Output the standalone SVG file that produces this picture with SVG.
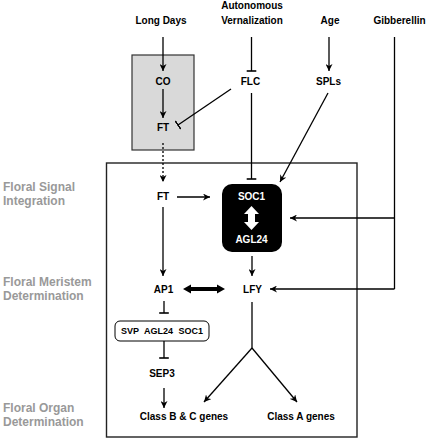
<svg xmlns="http://www.w3.org/2000/svg" width="427" height="440" viewBox="0 0 427 440">
<style>
text{font-family:"Liberation Sans",Arial,sans-serif;font-weight:bold;}
.n{font-size:10px;fill:#000;text-anchor:middle;}
.w{font-size:10px;fill:#fff;text-anchor:middle;}
.s{font-size:9px;fill:#000;text-anchor:middle;}
.lab{font-size:12px;fill:#999;}
.c{stroke:#000;stroke-width:1.3;fill:none;}
.a{marker-end:url(#arr);}
.b{marker-end:url(#bar);}
</style>
<defs>
<marker id="arr" viewBox="0 0 10 10" refX="10" refY="5" markerWidth="7" markerHeight="7" markerUnits="userSpaceOnUse" orient="auto"><path d="M0,0 L10,5 L0,10 L3,5 z" fill="#000"/></marker>
<marker id="bar" viewBox="0 0 2 12" refX="1" refY="6" markerWidth="1.6" markerHeight="12" markerUnits="userSpaceOnUse" orient="auto"><rect width="2" height="12" fill="#000"/></marker>
</defs>
<rect width="427" height="440" fill="#fff"/>
<g id="stage-labels">
<text class="lab" x="3" y="191">Floral Signal</text>
<text class="lab" x="3" y="205">Integration</text>
<text class="lab" x="3" y="286">Floral Meristem</text>
<text class="lab" x="3" y="300">Determination</text>
<text class="lab" x="3" y="412">Floral Organ</text>
<text class="lab" x="3" y="426">Determination</text>
</g>
<g id="leaf-box"><rect x="132" y="55" width="62" height="95" fill="#d9d9d9" stroke="#333" stroke-width="1.2"/></g>
<g id="meristem-box"><rect x="106.5" y="163" width="250.5" height="274" fill="none" stroke="#222" stroke-width="1.4"/></g>
<g id="long-days"><text class="n" x="161" y="24">Long Days</text></g>
<g id="autonomous-vernalization"><text class="n" x="252" y="9">Autonomous</text><text class="n" x="252" y="24">Vernalization</text></g>
<g id="age"><text class="n" x="330" y="24">Age</text></g>
<g id="gibberellin"><text class="n" x="399.5" y="24">Gibberellin</text></g>
<g id="co"><text class="n" x="163" y="85">CO</text></g>
<g id="flc"><text class="n" x="250.5" y="85">FLC</text></g>
<g id="spls"><text class="n" x="328.5" y="85">SPLs</text></g>
<g id="ft-leaf"><text class="n" x="163" y="131">FT</text></g>
<g id="ft"><text class="n" x="163" y="200">FT</text></g>
<g id="soc1-agl24">
<rect x="222" y="184" width="60" height="68" rx="10" fill="#000"/>
<text class="w" x="251.5" y="200">SOC1</text>
<polygon points="251.5,206 259,214 255,214 255,222 259,222 251.5,230 244,222 248,222 248,214 244,214" fill="#fff"/>
<text class="w" x="251.5" y="243">AGL24</text>
</g>
<g id="ap1"><text class="n" x="163.5" y="293">AP1</text></g>
<g id="lfy"><text class="n" x="252.5" y="293">LFY</text></g>
<g id="svp-agl24-soc1">
<rect x="115" y="321" width="94" height="20" rx="5" fill="#fff" stroke="#000" stroke-width="1"/>
<text class="s" x="162" y="334" word-spacing="3">SVP AGL24 SOC1</text>
</g>
<g id="sep3"><text class="n" x="162" y="377">SEP3</text></g>
<g id="class-bc"><text class="n" x="184" y="420">Class B &amp; C genes</text></g>
<g id="class-a"><text class="n" x="301" y="420">Class A genes</text></g>
<g id="connectors">
<line class="c a" x1="163" y1="37" x2="163" y2="71"/>
<line class="c a" x1="163" y1="89" x2="163" y2="118"/>
<line class="c b" x1="251.5" y1="37" x2="251.5" y2="71"/>
<line class="c a" x1="329" y1="37" x2="329" y2="71"/>
<line class="c b" x1="231" y1="89" x2="178" y2="125"/>
<line class="c b" x1="251.5" y1="93" x2="251.5" y2="179"/>
<line class="c a" x1="328" y1="93" x2="280" y2="182"/>
<polyline class="c" points="394.5,37 394.5,289"/>
<line class="c a" x1="394.5" y1="218" x2="290" y2="218"/>
<line class="c a" x1="394.5" y1="289" x2="270" y2="289"/>
<line class="c a" x1="163" y1="143" x2="163" y2="182" stroke-dasharray="2,2"/>
<line class="c a" x1="177" y1="197" x2="210" y2="197"/>
<line class="c a" x1="163" y1="207" x2="163" y2="276"/>
<line class="c a" x1="252" y1="256" x2="252" y2="276"/>
<polygon points="183,289 191,284.5 191,287 217,287 217,284.5 225,289 217,293.5 217,291 191,291 191,293.5" fill="#000"/>
<line class="c b" x1="164" y1="301" x2="164" y2="313"/>
<line class="c b" x1="164" y1="341" x2="164" y2="358"/>
<line class="c a" x1="164" y1="388" x2="164" y2="408"/>
<polyline class="c" points="252,302 252,348"/>
<line class="c a" x1="252" y1="348" x2="204" y2="402"/>
<line class="c a" x1="252" y1="348" x2="297" y2="402"/>
</g>
</svg>
